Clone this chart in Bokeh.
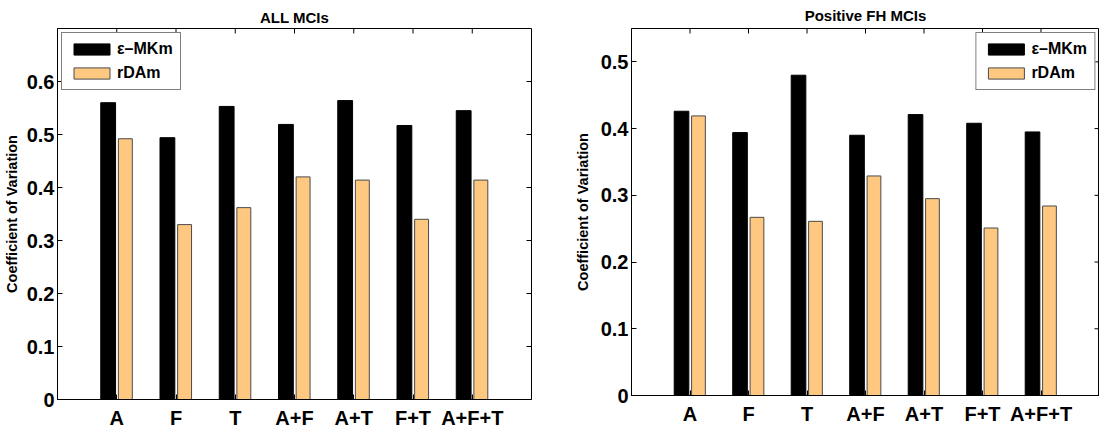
import math
from bokeh.plotting import figure
from bokeh.layouts import row
from bokeh.models import FixedTicker, Range1d, Legend, LegendItem, ColumnDataSource
from bokeh.embed import file_html
from bokeh.resources import INLINE

categories = ["A", "F", "T", "A+F", "A+T", "F+T", "A+F+T"]
series_names = ["\u03b5\u2013MKm", "rDAm"]

all_mkm = [0.560, 0.494, 0.553, 0.519, 0.564, 0.517, 0.545]
all_rdam = [0.492, 0.330, 0.362, 0.420, 0.414, 0.340, 0.414]

fh_mkm = [0.426, 0.394, 0.480, 0.390, 0.421, 0.408, 0.395]
fh_rdam = [0.419, 0.267, 0.261, 0.329, 0.295, 0.251, 0.284]

left_yticks = [0, 0.1, 0.2, 0.3, 0.4, 0.5, 0.6]
right_yticks = [0, 0.1, 0.2, 0.3, 0.4, 0.5]

FONT = "Liberation Sans"
ORANGE = "#FFC880"


def make(title, mkm, rdam, ymax, yticks, fw, fh, bl, br, bt, leg_loc, ylabel_standoff, title_standoff):
    p = figure(frame_width=fw, frame_height=fh, output_backend="svg", toolbar_location=None,
               x_range=Range1d(0, 8), y_range=Range1d(0, ymax),
               min_border_left=bl, min_border_right=br, min_border_top=bt, min_border_bottom=31,
               title=title)
    p.title.text_font = FONT
    p.title.text_font_style = "bold"
    p.title.text_font_size = "15px"
    p.title.text_color = "black"
    p.title.align = "center"
    p.title.standoff = title_standoff
    p.grid.visible = False
    p.outline_line_color = "black"
    p.outline_line_alpha = 1
    p.outline_line_width = 1

    xs = list(range(1, len(categories) + 1))
    src = ColumnDataSource(dict(x1=[x - 0.145 for x in xs], x2=[x + 0.145 for x in xs], a=mkm, b=rdam))
    r1 = p.vbar(x="x1", top="a", width=0.25, source=src, fill_color="black", line_color="black")
    r2 = p.vbar(x="x2", top="b", width=0.235, source=src, fill_color=ORANGE, line_color="#4a4a4a", line_width=1)

    xa = p.xaxis[0]
    xa.ticker = FixedTicker(ticks=xs)
    xa.major_label_overrides = {x: c for x, c in zip(xs, categories)}
    xa.minor_tick_line_color = None
    xa.major_tick_in = 5
    xa.major_tick_out = 0
    xa.major_label_standoff = 7
    xa.major_label_text_font = FONT
    xa.major_label_text_font_style = "bold"
    xa.major_label_text_font_size = "20px"
    xa.major_label_text_color = "black"
    xa.axis_line_color = "black"

    ya = p.yaxis[0]
    ya.ticker = FixedTicker(ticks=yticks)
    ya.major_label_overrides = {0: "0"}
    ya.minor_tick_line_color = None
    ya.major_tick_in = 5
    ya.major_tick_out = 0
    ya.major_label_standoff = 3
    ya.major_label_text_font = FONT
    ya.major_label_text_font_style = "bold"
    ya.major_label_text_font_size = "20px"
    ya.major_label_text_color = "black"
    ya.axis_label = "Coefficient of Variation"
    ya.axis_label_text_font = FONT
    ya.axis_label_text_font_style = "bold"
    ya.axis_label_text_font_size = "14.5px"
    ya.axis_label_text_color = "black"
    ya.axis_label_standoff = ylabel_standoff
    ya.axis_line_color = "black"

    # mirrored inward ticks on top and right edges of the box
    xend = p.x_range.end
    p.ray(x=xs, y=[ymax] * len(xs), length=5, angle=-math.pi / 2, length_units="screen",
          line_color="black", line_width=1)
    p.ray(x=[xend] * (len(yticks) - 1), y=yticks[1:], length=5, angle=math.pi, length_units="screen",
          line_color="black", line_width=1)

    legend = Legend(items=[LegendItem(label=series_names[0], renderers=[r1]),
                           LegendItem(label=series_names[1], renderers=[r2])],
                    location=leg_loc)
    legend.label_text_font = FONT
    legend.label_text_font_style = "bold"
    legend.label_text_font_size = "16px"
    legend.label_text_color = "black"
    legend.glyph_width = 45
    legend.glyph_height = 14
    legend.label_height = 14
    legend.spacing = 6
    legend.padding = 7
    legend.margin = 4
    legend.label_standoff = 3
    legend.border_line_color = "black"
    legend.border_line_width = 1
    legend.background_fill_alpha = 1
    p.add_layout(legend, "center")
    return p


p1 = make("ALL MCIs", all_mkm, all_rdam, 0.7, left_yticks, 474, 371, 53, 40, 24, "top_left", 4, 6)
p2 = make("Positive FH MCIs", fh_mkm, fh_rdam, 0.55, right_yticks, 468, 367, 59, 0, 28, "top_right", 7, 9)

layout = row(p1, p2)
html = file_html(layout, INLINE)
html = html.replace("<head>", "<head><style>html, body { overflow: hidden; }</style>", 1)
open("out.html", "w").write(html)
